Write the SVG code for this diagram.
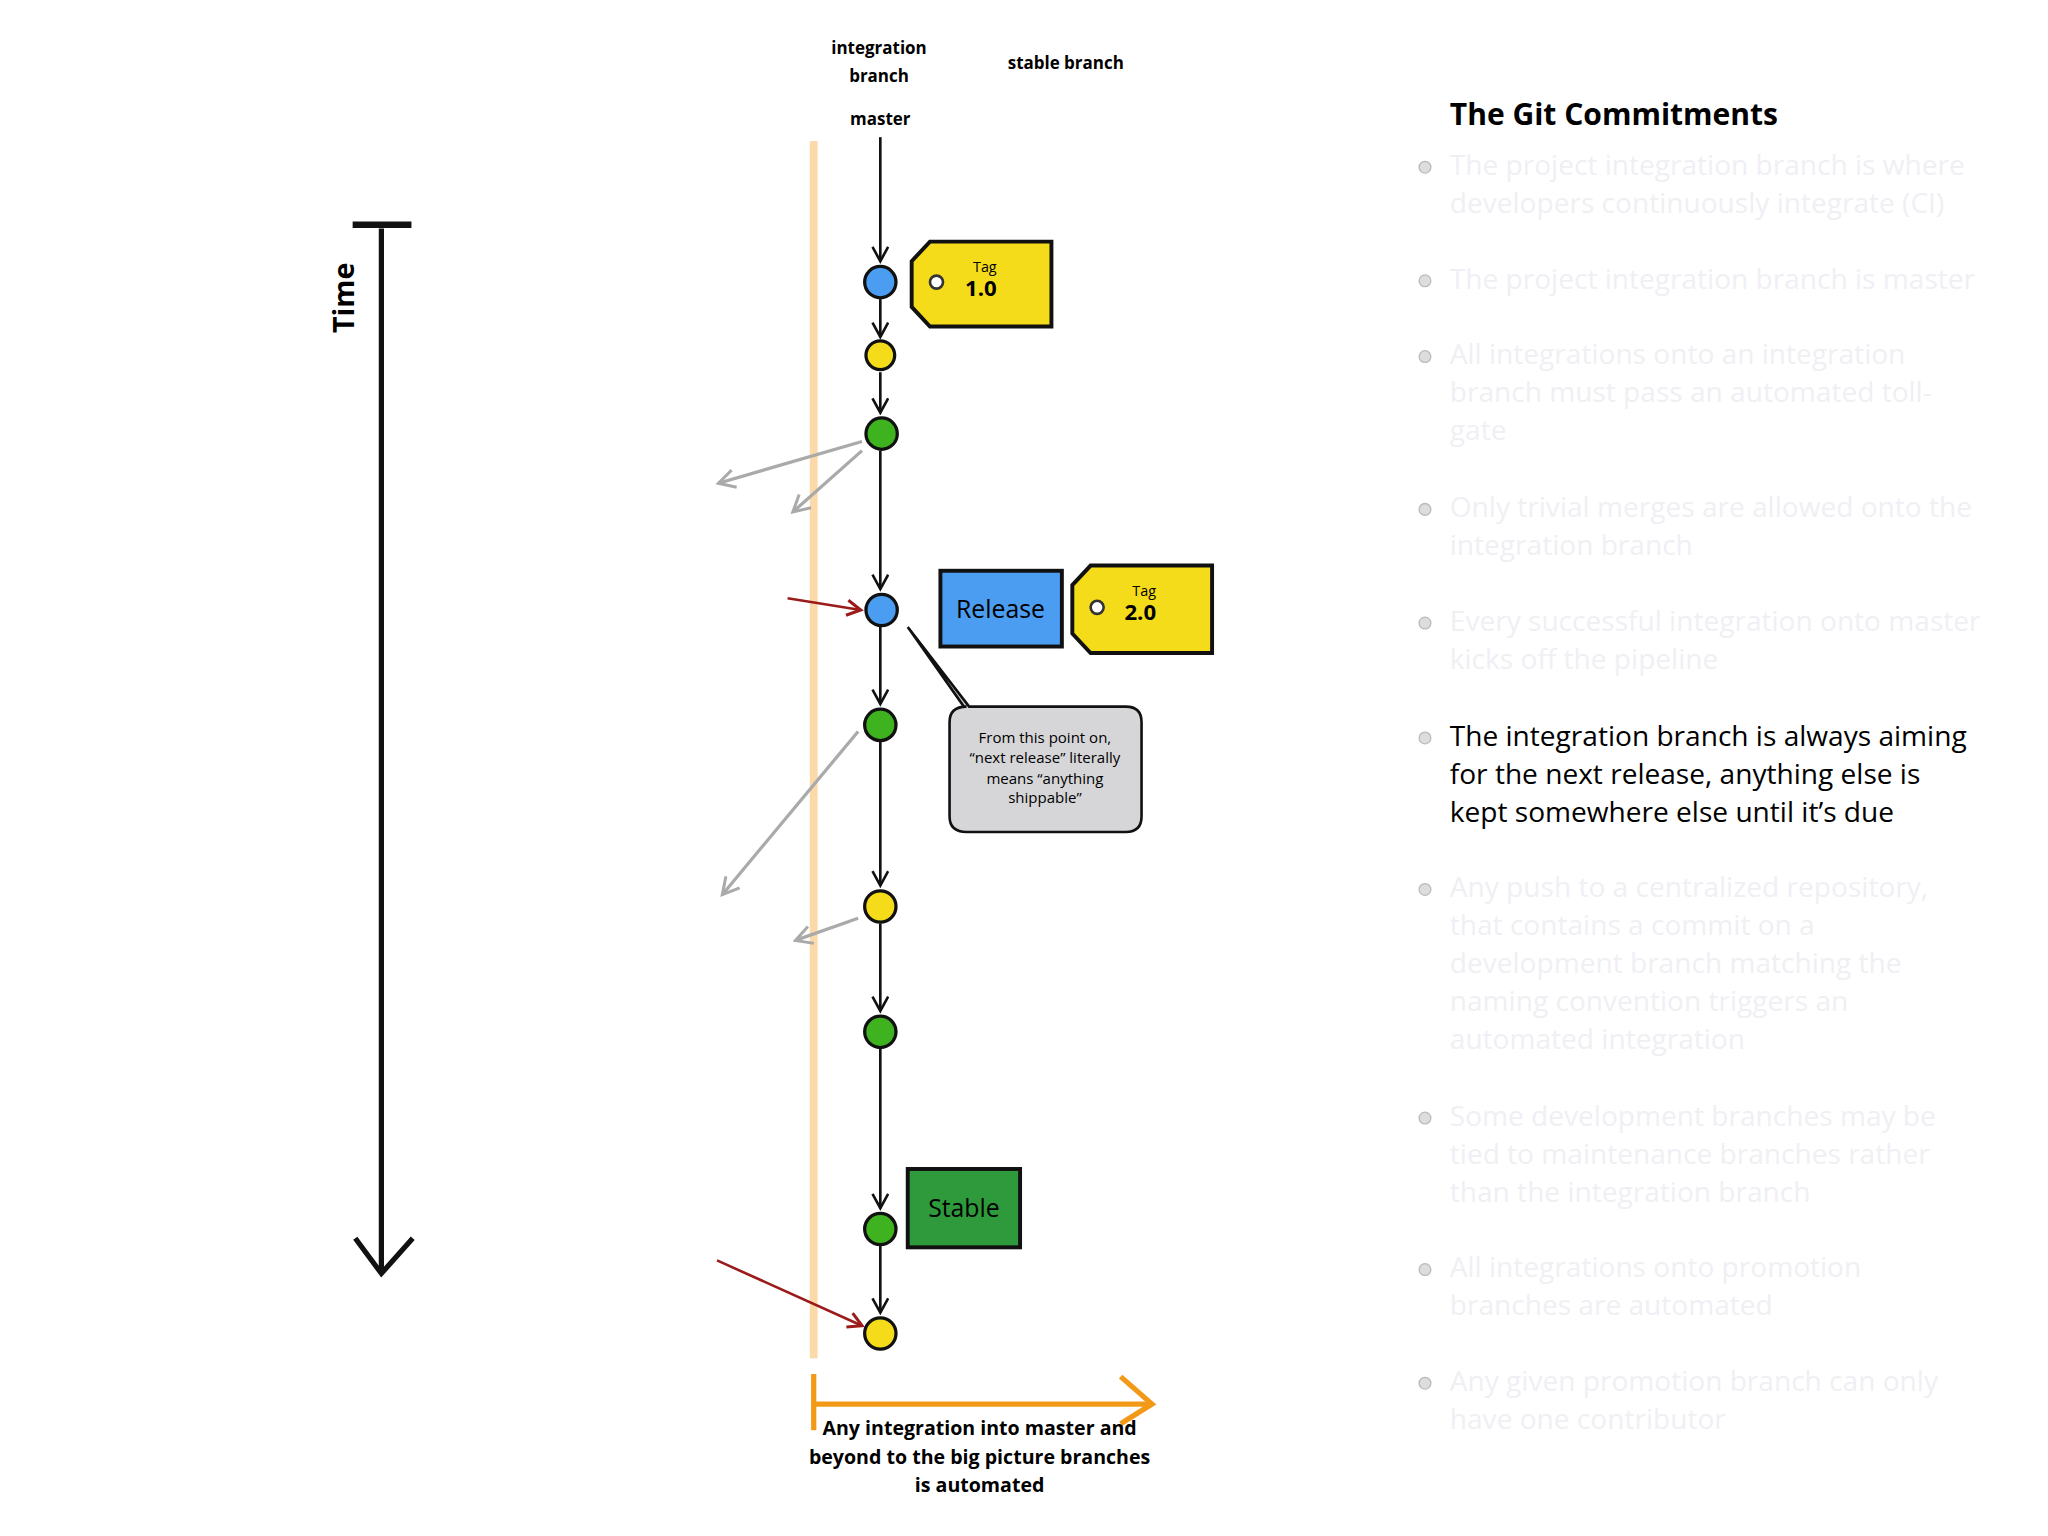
<svg xmlns="http://www.w3.org/2000/svg" width="2048" height="1536" viewBox="0 0 2048 1536">
<style>
.lbl{font-family:"Open Sans","Liberation Sans",sans-serif;font-weight:bold;font-size:13px;fill:#000;text-anchor:middle}
.b{font-family:"Open Sans","Liberation Sans",sans-serif;font-size:21.5px;fill:#efeff4}
.hi{fill:#000}
.dot{fill:#ddd;stroke:#bbb;stroke-width:1}
.c{stroke:#111;stroke-width:2.5}
.blue{fill:#4a9df0}.yel{fill:#f5dc1a}.grn{fill:#3fb31f}
.ln{stroke:#111;stroke-width:2;fill:none}
.gr{stroke:#aaa;stroke-width:2.5;fill:none}
.rd{stroke:#9b1b1b;stroke-width:2;fill:none}
</style>
<defs>
<marker id="ah" viewBox="0 0 14 14" refX="12" refY="7" markerWidth="14" markerHeight="14" markerUnits="userSpaceOnUse" orient="auto"><path d="M1,1 L12,7 L1,13" fill="none" stroke="#111" stroke-width="2"/></marker>
<marker id="ag" viewBox="0 0 14 14" refX="12" refY="7" markerWidth="16" markerHeight="16" markerUnits="userSpaceOnUse" orient="auto"><path d="M1,1 L12,7 L1,13" fill="none" stroke="#aaa" stroke-width="2"/></marker>
<marker id="ar" viewBox="0 0 12 12" refX="10" refY="6" markerWidth="14" markerHeight="14" markerUnits="userSpaceOnUse" orient="auto"><path d="M1,1 L10,6 L1,11" fill="none" stroke="#9b1b1b" stroke-width="2"/></marker>
</defs>
<rect width="2048" height="1536" fill="#fff"/>
<g transform="scale(1.30612)">
<g id="headers">
<text class="lbl" x="673" y="41">integration</text>
<text class="lbl" x="673" y="63">branch</text>
<text class="lbl" x="816" y="53">stable branch</text>
<text class="lbl" x="674" y="96">master</text>
</g>
<g id="time">
<line x1="292" y1="175" x2="292" y2="972" stroke="#111" stroke-width="4"/>
<line x1="270" y1="172" x2="315" y2="172" stroke="#111" stroke-width="5"/>
<path d="M272,948 L292,975 L316,948" fill="none" stroke="#111" stroke-width="4"/>
<text transform="translate(271,228) rotate(-90)" font-family="Open Sans,Liberation Sans,sans-serif" font-weight="bold" font-size="22" text-anchor="middle">Time</text>
</g>
<rect x="620" y="108" width="6" height="932" fill="#fbd9a8"/>
<g id="connectors">
<line class="ln" x1="674" y1="105" x2="674" y2="200" marker-end="url(#ah)"/>
<line class="ln" x1="674" y1="229" x2="674" y2="258" marker-end="url(#ah)"/>
<line class="ln" x1="674" y1="285" x2="674" y2="316" marker-end="url(#ah)"/>
<line class="ln" x1="674" y1="345" x2="674" y2="451" marker-end="url(#ah)"/>
<line class="ln" x1="674" y1="480" x2="674" y2="539" marker-end="url(#ah)"/>
<line class="ln" x1="674" y1="568" x2="674" y2="678" marker-end="url(#ah)"/>
<line class="ln" x1="674" y1="707" x2="674" y2="774" marker-end="url(#ah)"/>
<line class="ln" x1="674" y1="803" x2="674" y2="925" marker-end="url(#ah)"/>
<line class="ln" x1="674" y1="954" x2="674" y2="1005" marker-end="url(#ah)"/>
<line class="gr" x1="660" y1="338" x2="550" y2="370" marker-end="url(#ag)"/>
<line class="gr" x1="660" y1="345" x2="607" y2="392" marker-end="url(#ag)"/>
<line class="gr" x1="657" y1="560" x2="553" y2="685" marker-end="url(#ag)"/>
<line class="gr" x1="657" y1="703" x2="609" y2="720" marker-end="url(#ag)"/>
<line class="rd" x1="603" y1="458" x2="659" y2="467" marker-end="url(#ar)"/>
<line class="rd" x1="549" y1="965" x2="660" y2="1015" marker-end="url(#ar)"/>
<line x1="623" y1="1075" x2="880" y2="1075" stroke="#f29a18" stroke-width="4"/>
<line x1="623" y1="1052" x2="623" y2="1095" stroke="#f29a18" stroke-width="4"/>
<path d="M858,1054 L882,1075 L858,1090" fill="none" stroke="#f29a18" stroke-width="4"/>
</g>
<g id="commits">
<circle class="c blue" cx="674" cy="216" r="12"/>
<circle class="c yel" cx="674" cy="272" r="11"/>
<circle class="c grn" cx="675" cy="332" r="12"/>
<circle class="c blue" cx="675" cy="467" r="12"/>
<circle class="c grn" cx="674" cy="555" r="12"/>
<circle class="c yel" cx="674" cy="694" r="12"/>
<circle class="c grn" cx="674" cy="790" r="12"/>
<circle class="c grn" cx="674" cy="941" r="12"/>
<circle class="c yel" cx="674" cy="1021" r="12"/>
</g>
<g id="tag1">
<path d="M712,185 L805,185 L805,250 L712,250 L698,235 L698,200 Z" fill="#f5dc1a" stroke="#111" stroke-width="3"/>
<circle cx="717" cy="216" r="5" fill="#fff" stroke="#333" stroke-width="2"/>
<text x="754" y="208" font-family="Open Sans,sans-serif" font-size="11" text-anchor="middle">Tag</text>
<text x="751" y="227" font-family="Open Sans,sans-serif" font-weight="bold" font-size="17" text-anchor="middle">1.0</text>
</g>
<g id="release">
<rect x="720" y="437" width="93" height="58" fill="#4a9df0" stroke="#111" stroke-width="3"/>
<text x="766" y="473" font-family="Open Sans,sans-serif" font-size="19" text-anchor="middle">Release</text>
</g>
<g id="tag2">
<path d="M835,433 L928,433 L928,500 L835,500 L821,485 L821,448 Z" fill="#f5dc1a" stroke="#111" stroke-width="3"/>
<circle cx="840" cy="465" r="5" fill="#fff" stroke="#333" stroke-width="2"/>
<text x="876" y="456" font-family="Open Sans,sans-serif" font-size="11" text-anchor="middle">Tag</text>
<text x="873" y="475" font-family="Open Sans,sans-serif" font-weight="bold" font-size="17" text-anchor="middle">2.0</text>
</g>
<g id="callout">
<path d="M742,541 L862,541 Q874,541 874,553 L874,625 Q874,637 862,637 L740,637 Q727,637 727,625 L727,553 Q727,541 740,541 L738,541 L695,480 Z" fill="#d6d6d8" stroke="#111" stroke-width="2"/>
<g font-family="Open Sans,sans-serif" font-size="11.5" text-anchor="middle">
<text x="800" y="569">From this point on,</text>
<text x="800" y="584">“next release” literally</text>
<text x="800" y="600">means “anything</text>
<text x="800" y="615">shippable”</text>
</g>
</g>
<g id="stable">
<rect x="695" y="895" width="86" height="60" fill="#2e9a3c" stroke="#111" stroke-width="3"/>
<text x="738" y="932" font-family="Open Sans,sans-serif" font-size="19" text-anchor="middle">Stable</text>
</g>
<g id="footer" font-family="Open Sans,sans-serif" font-weight="bold" font-size="15" text-anchor="middle">
<text x="750" y="1099">Any integration into master and</text>
<text x="750" y="1121">beyond to the big picture branches</text>
<text x="750" y="1142">is automated</text>
</g>
<g id="list">
<text x="1110" y="96" font-family="Open Sans,sans-serif" font-weight="bold" font-size="23">The Git Commitments</text>
<circle class="dot" cx="1091" cy="128" r="4.5"/><text class="b" x="1110" y="134">The project integration branch is where</text><text class="b" x="1110" y="163">developers continuously integrate (CI)</text>
<circle class="dot" cx="1091" cy="215" r="4.5"/><text class="b" x="1110" y="221">The project integration branch is master</text>
<circle class="dot" cx="1091" cy="273" r="4.5"/><text class="b" x="1110" y="279">All integrations onto an integration</text><text class="b" x="1110" y="308">branch must pass an automated toll-</text><text class="b" x="1110" y="337">gate</text>
<circle class="dot" cx="1091" cy="390" r="4.5"/><text class="b" x="1110" y="396">Only trivial merges are allowed onto the</text><text class="b" x="1110" y="425">integration branch</text>
<circle class="dot" cx="1091" cy="477" r="4.5"/><text class="b" x="1110" y="483">Every successful integration onto master</text><text class="b" x="1110" y="512">kicks off the pipeline</text>
<circle class="dot" cx="1091" cy="565" r="4.5"/><text class="b hi" x="1110" y="571">The integration branch is always aiming</text><text class="b hi" x="1110" y="600">for the next release, anything else is</text><text class="b hi" x="1110" y="629">kept somewhere else until it’s due</text>
<circle class="dot" cx="1091" cy="681" r="4.5"/><text class="b" x="1110" y="687">Any push to a centralized repository,</text><text class="b" x="1110" y="716">that contains a commit on a</text><text class="b" x="1110" y="745">development branch matching the</text><text class="b" x="1110" y="774">naming convention triggers an</text><text class="b" x="1110" y="803">automated integration</text>
<circle class="dot" cx="1091" cy="856" r="4.5"/><text class="b" x="1110" y="862">Some development branches may be</text><text class="b" x="1110" y="891">tied to maintenance branches rather</text><text class="b" x="1110" y="920">than the integration branch</text>
<circle class="dot" cx="1091" cy="972" r="4.5"/><text class="b" x="1110" y="978">All integrations onto promotion</text><text class="b" x="1110" y="1007">branches are automated</text>
<circle class="dot" cx="1091" cy="1059" r="4.5"/><text class="b" x="1110" y="1065">Any given promotion branch can only</text><text class="b" x="1110" y="1094">have one contributor</text>
</g>
</g>
</svg>
